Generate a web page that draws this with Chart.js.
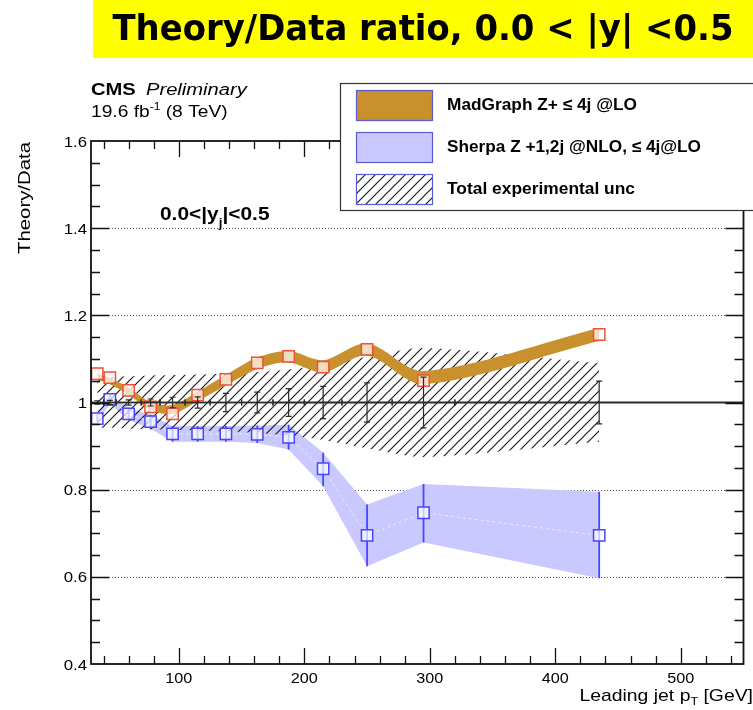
<!DOCTYPE html>
<html>
<head>
<meta charset="utf-8">
<script src="https://cdn.jsdelivr.net/npm/chart.js@4.4.1/dist/chart.umd.min.js"></script>
<style>
  html, body { margin: 0; padding: 0; background: #ffffff; overflow: hidden; }
  canvas { display: block; }
</style>
</head>
<body>
<canvas id="c" width="753" height="710"></canvas>
<script>
// Leading-jet pT bins (GeV): centres and edges
const ptCenters = [35, 45, 60, 77.5, 95, 115, 137.5, 162.5, 187.5, 215, 250, 295, 435];
const binEdges  = [30, 40, 50, 70, 85, 105, 125, 150, 175, 200, 230, 270, 320, 550];

// Data / data and its uncertainties
const dataRatio = [1, 1, 1, 1, 1, 1, 1, 1, 1, 1, 1, 1, 1];
const statErr   = [0.004, 0.005, 0.006, 0.008, 0.012, 0.013, 0.021, 0.024, 0.032, 0.037, 0.045, 0.058, 0.049];
const expUnc    = [0.058, 0.058, 0.060, 0.062, 0.063, 0.064, 0.066, 0.070, 0.076, 0.086, 0.105, 0.125, 0.090];

// MadGraph Z + <=4j @LO
const madgraphRatio    = [1.066, 1.057, 1.028, 0.990, 0.974, 1.017, 1.053, 1.091, 1.106, 1.081, 1.122, 1.050, 1.156];
const madgraphBandMid  = [1.060, 1.049, 1.026, 0.992, 0.984, 1.014, 1.051, 1.090, 1.105, 1.083, 1.122, 1.057, 1.156];
const madgraphBandHalf = [0.007, 0.007, 0.008, 0.009, 0.010, 0.011, 0.012, 0.013, 0.013, 0.014, 0.014, 0.015, 0.015];

// Sherpa Z + 1,2j @NLO, <=4j @LO
const sherpaRatio   = [0.963, 1.007, 0.974, 0.956, 0.928, 0.928, 0.928, 0.927, 0.920, 0.848, 0.695, 0.747, 0.695];
const sherpaErrUp   = [0.010, 0.010, 0.014, 0.016, 0.018, 0.018, 0.018, 0.020, 0.029, 0.037, 0.071, 0.066, 0.100];
const sherpaErrDown = [0.010, 0.010, 0.014, 0.016, 0.018, 0.018, 0.018, 0.020, 0.028, 0.040, 0.071, 0.068, 0.098];

// Axis ticks
const yTickValues = [0.4, 0.6, 0.8, 1.0, 1.2, 1.4, 1.6];
const yTickLabels = ['0.4', '0.6', '0.8', '1', '1.2', '1.4', '1.6'];
const xTickValues = [100, 200, 300, 400, 500];
const xTickLabels = ['100', '200', '300', '400', '500'];
const gridValues  = [0.6, 0.8, 1.2, 1.4];

// Legend entries
const legendLabels = ['MadGraph Z+ \u2264 4j @LO', 'Sherpa Z +1,2j @NLO, \u2264 4j@LO', 'Total experimental unc'];

const FONT = '"Liberation Sans", Arial, Helvetica, sans-serif';
const MG_FILL = '#c8912d';
const SH_FILL = '#c9c9ff';
const SH_LINE = '#4646ff';
const MG_MARK = '#f24e3a';

const pts = arr => ptCenters.map((x, i) => ({ x: x, y: arr[i] }));
const ptsOff = (arr, off, sign) => ptCenters.map((x, i) => ({ x: x, y: arr[i] + sign * off[i] }));

function makeHatch() {
  const t = document.createElement('canvas');
  t.width = 10; t.height = 10;
  const g = t.getContext('2d');
  g.strokeStyle = '#1c1c1c';
  g.lineWidth = 1.2;
  g.beginPath();
  g.moveTo(-1, 11); g.lineTo(11, -1);
  g.moveTo(-1, 1); g.lineTo(1, -1);
  g.moveTo(9, 11); g.lineTo(11, 9);
  g.stroke();
  return g.createPattern(t, 'repeat');
}
const hatch = makeHatch();

// text drawn as a run of pieces (sub/superscripts), stretched horizontally by sx
function drawPieces(ctx, pieces, x, y, sx, align) {
  let total = 0;
  pieces.forEach(p => { ctx.font = p.font; p.w = ctx.measureText(p.t).width; total += p.w; });
  let start = x;
  if (align === 'right') start = x - total * sx;
  else if (align === 'center') start = x - total * sx / 2;
  ctx.save();
  ctx.textAlign = 'left';
  ctx.textBaseline = 'alphabetic';
  ctx.translate(start, y);
  ctx.scale(sx, 1);
  let ox = 0;
  pieces.forEach(p => {
    ctx.fillStyle = p.color || '#000';
    ctx.font = p.font;
    ctx.fillText(p.t, ox, p.dy || 0);
    ox += p.w;
  });
  ctx.restore();
}

function drawFit(ctx, str, x, y, font, width, align, baseline) {
  ctx.save();
  ctx.font = font;
  const w = ctx.measureText(str).width;
  const sx = width / w;
  ctx.textAlign = 'left';
  ctx.textBaseline = baseline || 'alphabetic';
  ctx.translate(x - (align === 'right' ? width : align === 'center' ? width / 2 : 0), y);
  ctx.scale(sx, 1);
  ctx.fillStyle = '#000';
  ctx.fillText(str, 0, 0);
  ctx.restore();
}

const rootStyle = {
  id: 'rootStyle',
  beforeDatasetsDraw(chart) {
    const { ctx, chartArea: a, scales: { y } } = chart;
    ctx.save();
    ctx.strokeStyle = '#555';
    ctx.lineWidth = 1;
    ctx.setLineDash([1, 2]);
    gridValues.forEach(v => {
      const py = Math.round(y.getPixelForValue(v)) + 0.5;
      ctx.beginPath(); ctx.moveTo(a.left, py); ctx.lineTo(a.right, py); ctx.stroke();
    });
    ctx.restore();
  },
  beforeDatasetDraw(chart, args) {
    // Sherpa error bars sit under the Sherpa markers
    if (chart.data.datasets[args.index].label !== 'sherpa') return;
    const { ctx, scales: { x, y } } = chart;
    ctx.save();
    ctx.strokeStyle = SH_LINE;
    ctx.lineWidth = 1.8;
    ptCenters.forEach((pt, i) => {
      const px = x.getPixelForValue(pt);
      ctx.beginPath();
      ctx.moveTo(px, y.getPixelForValue(sherpaRatio[i] + sherpaErrUp[i]));
      ctx.lineTo(px, y.getPixelForValue(sherpaRatio[i] - sherpaErrDown[i]));
      ctx.stroke();
    });
    ctx.restore();
  },
  afterDatasetsDraw(chart) {
    const { ctx, scales: { x, y } } = chart;
    ctx.save();
    // data points: x error bars (bin widths) and statistical error bars
    ctx.strokeStyle = '#2a2a2a';
    ctx.lineWidth = 1.8;
    ptCenters.forEach((pt, i) => {
      const py = y.getPixelForValue(dataRatio[i]);
      const x0 = x.getPixelForValue(binEdges[i]);
      const x1 = x.getPixelForValue(binEdges[i + 1]);
      ctx.beginPath(); ctx.moveTo(x0, py); ctx.lineTo(x1, py); ctx.stroke();
    });
    ctx.lineWidth = 1.2;
    ptCenters.forEach((pt, i) => {
      const py = y.getPixelForValue(dataRatio[i]);
      [binEdges[i], binEdges[i + 1]].forEach(e => {
        const ex = x.getPixelForValue(e);
        ctx.beginPath(); ctx.moveTo(ex, py - 3); ctx.lineTo(ex, py + 3); ctx.stroke();
      });
      const px = x.getPixelForValue(pt);
      const yt = y.getPixelForValue(dataRatio[i] + statErr[i]);
      const yb = y.getPixelForValue(dataRatio[i] - statErr[i]);
      ctx.beginPath();
      ctx.moveTo(px, yt); ctx.lineTo(px, yb);
      ctx.moveTo(px - 3, yt); ctx.lineTo(px + 3, yt);
      ctx.moveTo(px - 3, yb); ctx.lineTo(px + 3, yb);
      ctx.stroke();
    });
    ctx.restore();
  },
  afterDraw(chart) {
    const { ctx, chartArea: a, scales: { x, y } } = chart;
    ctx.save();
    // frame
    ctx.strokeStyle = '#111';
    ctx.lineWidth = 1.8;
    ctx.strokeRect(a.left, a.top, a.right - a.left, a.bottom - a.top);
    ctx.lineWidth = 1.3;
    // x ticks, bottom and top, every 20 GeV
    ctx.beginPath();
    for (let v = 40; v < x.max; v += 20) {
      const px = Math.round(x.getPixelForValue(v)) + 0.5;
      const len = (v % 100 === 0) ? 16 : 8;
      ctx.moveTo(px, a.bottom); ctx.lineTo(px, a.bottom - len);
      ctx.moveTo(px, a.top); ctx.lineTo(px, a.top + len);
    }
    // y ticks, left and right, every 0.05
    for (let k = 9; k <= 31; k++) {
      const v = k * 0.05;
      const py = Math.round(y.getPixelForValue(v)) + 0.5;
      const len = (k % 4 === 0) ? 18 : 9;
      ctx.moveTo(a.left, py); ctx.lineTo(a.left + len, py);
      ctx.moveTo(a.right, py); ctx.lineTo(a.right - len, py);
    }
    ctx.stroke();

    // tick labels
    ctx.fillStyle = '#000';
    yTickValues.forEach((v, i) => {
      drawPieces(ctx, [{ t: yTickLabels[i], font: '15px ' + FONT }], a.left - 4, y.getPixelForValue(v) + 5.5, 1.12, 'right');
    });
    xTickValues.forEach((v, i) => {
      drawPieces(ctx, [{ t: xTickLabels[i], font: '15px ' + FONT }], x.getPixelForValue(v), a.bottom + 19, 1.08, 'center');
    });

    // axis titles
    drawPieces(ctx, [
      { t: 'Leading jet p', font: '17px ' + FONT },
      { t: 'T', font: '11px ' + FONT, dy: 4 },
      { t: ' [GeV]', font: '17px ' + FONT }
    ], 753, 701, 1.14, 'right');
    ctx.save();
    ctx.translate(30, 142);
    ctx.rotate(-Math.PI / 2);
    drawFit(ctx, 'Theory/Data', 0, 0, '17px ' + FONT, 112, 'right');
    ctx.restore();

    // experiment label
    drawPieces(ctx, [{ t: 'CMS', font: 'bold 16px ' + FONT }], 91, 95, 1.26, 'left');
    drawPieces(ctx, [{ t: 'Preliminary', font: 'italic 16px ' + FONT }], 146, 95, 1.26, 'left');
    drawPieces(ctx, [
      { t: '19.6 fb', font: '16px ' + FONT },
      { t: '-1', font: '10px ' + FONT, dy: -7 },
      { t: ' (8 TeV)', font: '16px ' + FONT }
    ], 91, 117, 1.2, 'left');

    // rapidity bin annotation
    drawPieces(ctx, [
      { t: '0.0<|y', font: 'bold 19px ' + FONT },
      { t: 'j', font: 'bold 12px ' + FONT, dy: 7 },
      { t: '|<0.5', font: 'bold 19px ' + FONT }
    ], 160, 220, 1.1, 'left');

    // legend
    ctx.fillStyle = '#fff';
    ctx.fillRect(340.5, 83.5, 430, 127);
    ctx.strokeStyle = '#333';
    ctx.lineWidth = 1.2;
    ctx.strokeRect(340.5, 83.5, 430, 127);
    const swatchFills = [MG_FILL, SH_FILL, hatch];
    const rowTop = [90, 132, 174];
    const textW = [190, 254, 188];
    rowTop.forEach((t, i) => {
      if (i === 2) { ctx.fillStyle = '#fff'; ctx.fillRect(356, t, 76, 30); }
      ctx.fillStyle = swatchFills[i];
      ctx.fillRect(356, t, 76, 30);
      ctx.strokeStyle = '#5a5ad0';
      ctx.lineWidth = 1.2;
      ctx.strokeRect(356.5, t + 0.5, 76, 30);
      drawFit(ctx, legendLabels[i], 447, t + 15, 'bold 16.5px ' + FONT, textW[i], 'left', 'middle');
    });

    // header banner
    ctx.fillStyle = '#ffff00';
    ctx.fillRect(93, 0, 660, 58);
    drawFit(ctx, 'Theory/Data ratio, 0.0 < |y| <0.5', 423, 40, 'bold 35px "DejaVu Sans", Verdana, sans-serif', 621, 'center');
    ctx.restore();
  }
};

new Chart(document.getElementById('c'), {
  type: 'line',
  data: {
    datasets: [
      { label: 'sherpaUp', data: ptsOff(sherpaRatio, sherpaErrUp, 1), borderColor: 'transparent', pointRadius: 0, fill: false, order: 10 },
      { label: 'sherpaDown', data: ptsOff(sherpaRatio, sherpaErrDown, -1), borderColor: 'transparent', pointRadius: 0, fill: 0, backgroundColor: SH_FILL, order: 10 },
      { label: 'expUp', data: ptsOff(dataRatio, expUnc, 1), borderColor: 'transparent', pointRadius: 0, fill: false, tension: 0.25, order: 8 },
      { label: 'expDown', data: ptsOff(dataRatio, expUnc, -1), borderColor: 'transparent', pointRadius: 0, fill: 2, backgroundColor: hatch, tension: 0.25, order: 8 },
      { label: 'mgUp', data: ptsOff(madgraphBandMid, madgraphBandHalf, 1), borderColor: 'transparent', pointRadius: 0, fill: false, tension: 0.3, order: 6 },
      { label: 'mgDown', data: ptsOff(madgraphBandMid, madgraphBandHalf, -1), borderColor: 'transparent', pointRadius: 0, fill: 4, backgroundColor: MG_FILL, tension: 0.3, order: 6 },
      { label: 'sherpaCentral', data: pts(sherpaRatio), borderColor: 'rgba(255,255,255,0.6)', borderWidth: 1, borderDash: [3, 3], pointRadius: 0, fill: false, order: 4 },
      { label: 'sherpa', data: pts(sherpaRatio), showLine: false, pointStyle: 'rect', pointRadius: 8, pointBorderWidth: 1.5,
        pointBorderColor: SH_LINE, pointBackgroundColor: 'rgba(255,255,255,0.7)', order: 2 },
      { label: 'madgraph', data: pts(madgraphRatio), showLine: false, pointStyle: 'rect', pointRadius: 8, pointBorderWidth: 1.5,
        pointBorderColor: MG_MARK, pointBackgroundColor: 'rgba(255,255,255,0.7)', order: 1 }
    ]
  },
  options: {
    responsive: false,
    animation: false,
    events: [],
    layout: { padding: { left: 91, top: 141, right: 0, bottom: 46 } },
    scales: {
      x: { type: 'linear', min: 30, max: 550, display: false },
      y: { type: 'linear', min: 0.4, max: 1.6, display: false }
    },
    plugins: { legend: { display: false }, tooltip: { enabled: false }, title: { display: false } }
  },
  plugins: [rootStyle]
});
</script>
</body>
</html>
